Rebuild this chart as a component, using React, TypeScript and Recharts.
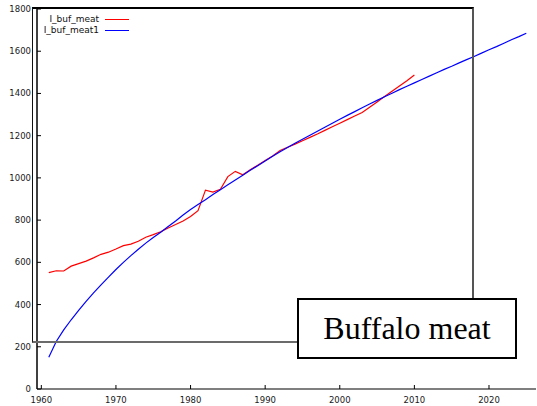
import React from 'react';
import { LineChart, Line, XAxis, YAxis } from 'recharts';

const years = [
  1961, 1962, 1963, 1964, 1965, 1966, 1967, 1968, 1969, 1970,
  1971, 1972, 1973, 1974, 1975, 1976, 1977, 1978, 1979, 1980,
  1981, 1982, 1983, 1984, 1985, 1986, 1987, 1988, 1989, 1990,
  1991, 1992, 1993, 1994, 1995, 1996, 1997, 1998, 1999, 2000,
  2001, 2002, 2003, 2004, 2005, 2006, 2007, 2008, 2009, 2010,
  2011, 2012, 2013, 2014, 2015, 2016, 2017, 2018, 2019, 2020,
  2021, 2022, 2023, 2024, 2025,
];

// I_buf_meat (observed, 1961-2010)
const bufMeat = [
  551, 560, 559, 582, 594, 606, 621, 638, 648, 663,
  679, 686, 700, 719, 731, 745, 763, 779, 796, 817,
  845, 942, 933, 946, 1006, 1031, 1015, 1038, 1060, 1082,
  1104, 1130, 1145, 1160, 1176, 1192, 1208, 1225, 1242, 1259,
  1276, 1293, 1310, 1335, 1360, 1385, 1410, 1435, 1460, 1487,
];

// I_buf_meat1 (fitted, 1961-2025)
const bufMeat1 = [
  150, 225, 280, 328, 373, 415, 455, 493, 530, 566,
  600, 632, 662, 691, 718, 743, 770, 796, 824, 850,
  874, 897, 921, 944, 967, 990, 1013, 1036, 1058, 1080,
  1102, 1124, 1144, 1164, 1183, 1202, 1221, 1240, 1259, 1278,
  1296, 1314, 1332, 1350, 1367, 1384, 1401, 1418, 1434, 1450,
  1466, 1482, 1498, 1514, 1529, 1545, 1560, 1575, 1591, 1607,
  1622, 1638, 1654, 1669, 1685,
];

const xTicks = [1960, 1970, 1980, 1990, 2000, 2010, 2020];
const yTicks = [0, 200, 400, 600, 800, 1000, 1200, 1400, 1600, 1800];
const seriesNames = ['I_buf_meat', 'I_buf_meat1'];
const seriesKeys = ['meat', 'meat1'];
const seriesColors = ['#ff0000', '#0000ff'];
const titleText = 'Buffalo meat';

const data = years.map((y, i) => ({
  year: y,
  meat: i < bufMeat.length ? bufMeat[i] : undefined,
  meat1: bufMeat1[i],
}));

const tickFont = { fontSize: 8.5, fontFamily: 'DejaVu Sans', fill: '#1a1a1a' };

const BottomTick = (props: any) => {
  const { x, y, payload } = props;
  return (
    <g>
      <line x1={x} x2={x} y1={y} y2={y - 4} stroke="#000" strokeWidth={1} />
      <text x={x} y={y + 14} textAnchor="middle" {...tickFont}>{payload.value}</text>
    </g>
  );
};

const TopTick = (props: any) => {
  const { x, y } = props;
  return <line x1={x} x2={x} y1={y} y2={y + 4} stroke="#000" strokeWidth={1} />;
};

const LeftTick = (props: any) => {
  const { x, y, payload } = props;
  return (
    <g>
      <line x1={x} x2={x + 4} y1={y} y2={y} stroke="#000" strokeWidth={1} />
      <text x={x - 6} y={y + 3} textAnchor="end" {...tickFont}>{payload.value}</text>
    </g>
  );
};

const RightTick = (props: any) => {
  const { x, y } = props;
  return <line x1={x} x2={x - 4} y1={y} y2={y} stroke="#000" strokeWidth={1} />;
};

const xDomain: [number, number] = [1959.42, 2026.3];

export default function App() {
  return (
    <div style={{ position: 'absolute', left: 0, top: 0, width: 537, height: 406, background: '#fff' }}>
      <LineChart
        width={537}
        height={406}
        data={data}
        margin={{ top: 9, right: 1, left: 0, bottom: 0 }}
      >
        <XAxis
          xAxisId="bottom"
          dataKey="year"
          type="number"
          domain={xDomain}
          allowDataOverflow
          ticks={xTicks}
          orientation="bottom"
          height={17}
          tickSize={0}
          tickMargin={0}
          tickLine={false}
          axisLine={{ stroke: '#000', strokeWidth: 1.2 }}
          tick={BottomTick}
          interval={0}
        />
        <XAxis
          xAxisId="top"
          dataKey="year"
          type="number"
          domain={xDomain}
          allowDataOverflow
          ticks={xTicks}
          orientation="top"
          height={0}
          tickSize={0}
          tickMargin={0}
          tickLine={false}
          axisLine={{ stroke: '#000', strokeWidth: 1 }}
          tick={TopTick}
          interval={0}
        />
        <YAxis
          yAxisId="left"
          type="number"
          domain={[0, 1800]}
          ticks={yTicks}
          width={37}
          tickSize={0}
          tickMargin={0}
          tickLine={false}
          axisLine={{ stroke: '#000', strokeWidth: 1.5 }}
          tick={LeftTick}
          interval={0}
        />
        <YAxis
          yAxisId="right"
          orientation="right"
          type="number"
          domain={[0, 1800]}
          ticks={yTicks}
          width={0}
          tickSize={0}
          tickMargin={0}
          tickLine={false}
          axisLine={{ stroke: '#000', strokeWidth: 1 }}
          tick={RightTick}
          interval={0}
        />
        {seriesKeys.map((k, i) => (
          <Line
            key={k}
            xAxisId="bottom"
            yAxisId="left"
            dataKey={k}
            name={seriesNames[i]}
            stroke={seriesColors[i]}
            strokeWidth={1.2}
            dot={false}
            activeDot={false}
            connectNulls={false}
            isAnimationActive={false}
          />
        ))}
      </LineChart>

      {/* legend */}
      <div style={{ position: 'absolute', left: 0, top: 14, fontFamily: 'DejaVu Sans', fontSize: 9, color: '#111' }}>
        {seriesNames.map((n, i) => (
          <div key={n} style={{ position: 'relative', height: 11, lineHeight: '11px', width: 140 }}>
            <span style={{ position: 'absolute', left: 0, top: 0, width: 99, textAlign: 'right', whiteSpace: 'nowrap' }}>{n}</span>
            <span style={{ position: 'absolute', left: 105, top: 5, width: 24, height: 1, background: seriesColors[i] }} />
          </div>
        ))}
      </div>

      {/* overlay frame */}
      <div
        style={{
          position: 'absolute',
          left: 32,
          top: 7,
          width: 442,
          height: 336,
          boxSizing: 'border-box',
          borderTop: '2px solid #000',
          borderLeft: '1.5px solid #111',
          borderRight: '2px solid #555',
          borderBottom: '2px solid #6b6b6b',
        }}
      />

      {/* title box */}
      <div
        style={{
          position: 'absolute',
          left: 297,
          top: 298,
          width: 220,
          height: 61,
          boxSizing: 'border-box',
          border: '2px solid #000',
          background: '#fff',
          display: 'flex',
          alignItems: 'center',
          justifyContent: 'center',
          fontFamily: '"Liberation Serif", serif',
          fontSize: 32,
          color: '#000',
          whiteSpace: 'nowrap',
        }}
      >
        {titleText}
      </div>
    </div>
  );
}
